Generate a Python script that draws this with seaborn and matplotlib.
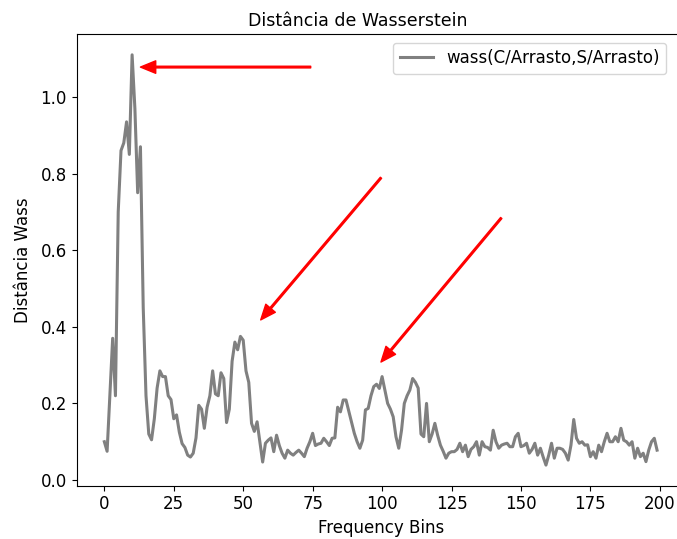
import numpy as np
import pandas as pd
import matplotlib
matplotlib.use("Agg")
import matplotlib.pyplot as plt
import seaborn as sns

wass = [
    0.10, 0.075, 0.22, 0.37, 0.22, 0.70, 0.86, 0.88, 0.935, 0.85,
    1.11, 0.97, 0.75, 0.87, 0.45, 0.22, 0.12, 0.105, 0.16, 0.24,
    0.285, 0.27, 0.27, 0.22, 0.21, 0.16, 0.17, 0.125, 0.095, 0.085,
    0.065, 0.06, 0.07, 0.11, 0.195, 0.185, 0.135, 0.19, 0.22, 0.285,
    0.225, 0.22, 0.28, 0.265, 0.15, 0.185, 0.31, 0.36, 0.34, 0.375,
    0.365, 0.285, 0.255, 0.148, 0.127, 0.152, 0.10, 0.047, 0.096, 0.104,
    0.11, 0.074, 0.117, 0.09, 0.07, 0.057, 0.078, 0.07, 0.065, 0.072,
    0.078, 0.07, 0.061, 0.083, 0.10, 0.122, 0.09, 0.094, 0.096, 0.109,
    0.10, 0.09, 0.109, 0.11, 0.19, 0.178, 0.209, 0.209, 0.18, 0.15,
    0.122, 0.10, 0.083, 0.104, 0.183, 0.187, 0.22, 0.244, 0.25, 0.239,
    0.27, 0.235, 0.20, 0.185, 0.165, 0.113, 0.083, 0.13, 0.20, 0.22,
    0.235, 0.265, 0.255, 0.24, 0.12, 0.113, 0.20, 0.10, 0.12, 0.148,
    0.117, 0.091, 0.075, 0.057, 0.07, 0.074, 0.074, 0.08, 0.096, 0.074,
    0.091, 0.061, 0.08, 0.087, 0.10, 0.065, 0.10, 0.087, 0.085, 0.078,
    0.13, 0.10, 0.083, 0.091, 0.094, 0.096, 0.087, 0.087, 0.113, 0.122,
    0.087, 0.09, 0.096, 0.07, 0.08, 0.096, 0.065, 0.083, 0.06, 0.039,
    0.065, 0.096, 0.057, 0.083, 0.083, 0.08, 0.07, 0.052, 0.091, 0.158,
    0.109, 0.096, 0.10, 0.091, 0.092, 0.061, 0.074, 0.057, 0.091, 0.074,
    0.10, 0.122, 0.10, 0.10, 0.113, 0.10, 0.135, 0.104, 0.10, 0.091,
    0.10, 0.057, 0.083, 0.061, 0.07, 0.048, 0.078, 0.10, 0.109, 0.078,
]
bins = list(range(len(wass)))

# arrow annotations (tail -> tip), in data coordinates
arrow_tails = [(74.3, 1.078), (99.6, 0.789), (142.9, 0.684)]
arrow_tips = [(13.0, 1.078), (56.3, 0.418), (99.6, 0.308)]

df = pd.DataFrame({"bin": bins, "wass": wass})

plt.rcParams['font.family'] = ['DejaVu Sans']
plt.rcParams['font.size'] = 12

fig = plt.figure(figsize=(6.77, 5.39), dpi=100)
ax = fig.add_axes([76.7 / 677, (539 - 485.6) / 539, 608 / 677, (485.6 - 34.3) / 539])

sns.lineplot(data=df, x="bin", y="wass", ax=ax, color="gray", linewidth=2.2,
             label="wass(C/Arrasto,S/Arrasto)")

for (tx, ty), (hx, hy) in zip(arrow_tails, arrow_tips):
    ax.annotate("", xy=(hx, hy), xytext=(tx, ty),
                arrowprops=dict(facecolor="red", edgecolor="red", width=1.2,
                                headwidth=9, headlength=11))

ax.set_title("Distância de Wasserstein", fontsize=12.5, x=(358 - 76.7) / 608)
ax.set_xlabel("Frequency Bins", fontsize=12)
ax.set_ylabel("Distância Wass", fontsize=12, labelpad=6)
ax.set_xticks([0, 25, 50, 75, 100, 125, 150, 175, 200])
ax.set_yticks([0.0, 0.2, 0.4, 0.6, 0.8, 1.0])
ax.tick_params(labelsize=12)
ax.legend(loc="upper right", bbox_to_anchor=(598 / 608, 1.0), borderaxespad=0.5,
          fontsize=12)

fig.savefig("out.png", dpi=100)
